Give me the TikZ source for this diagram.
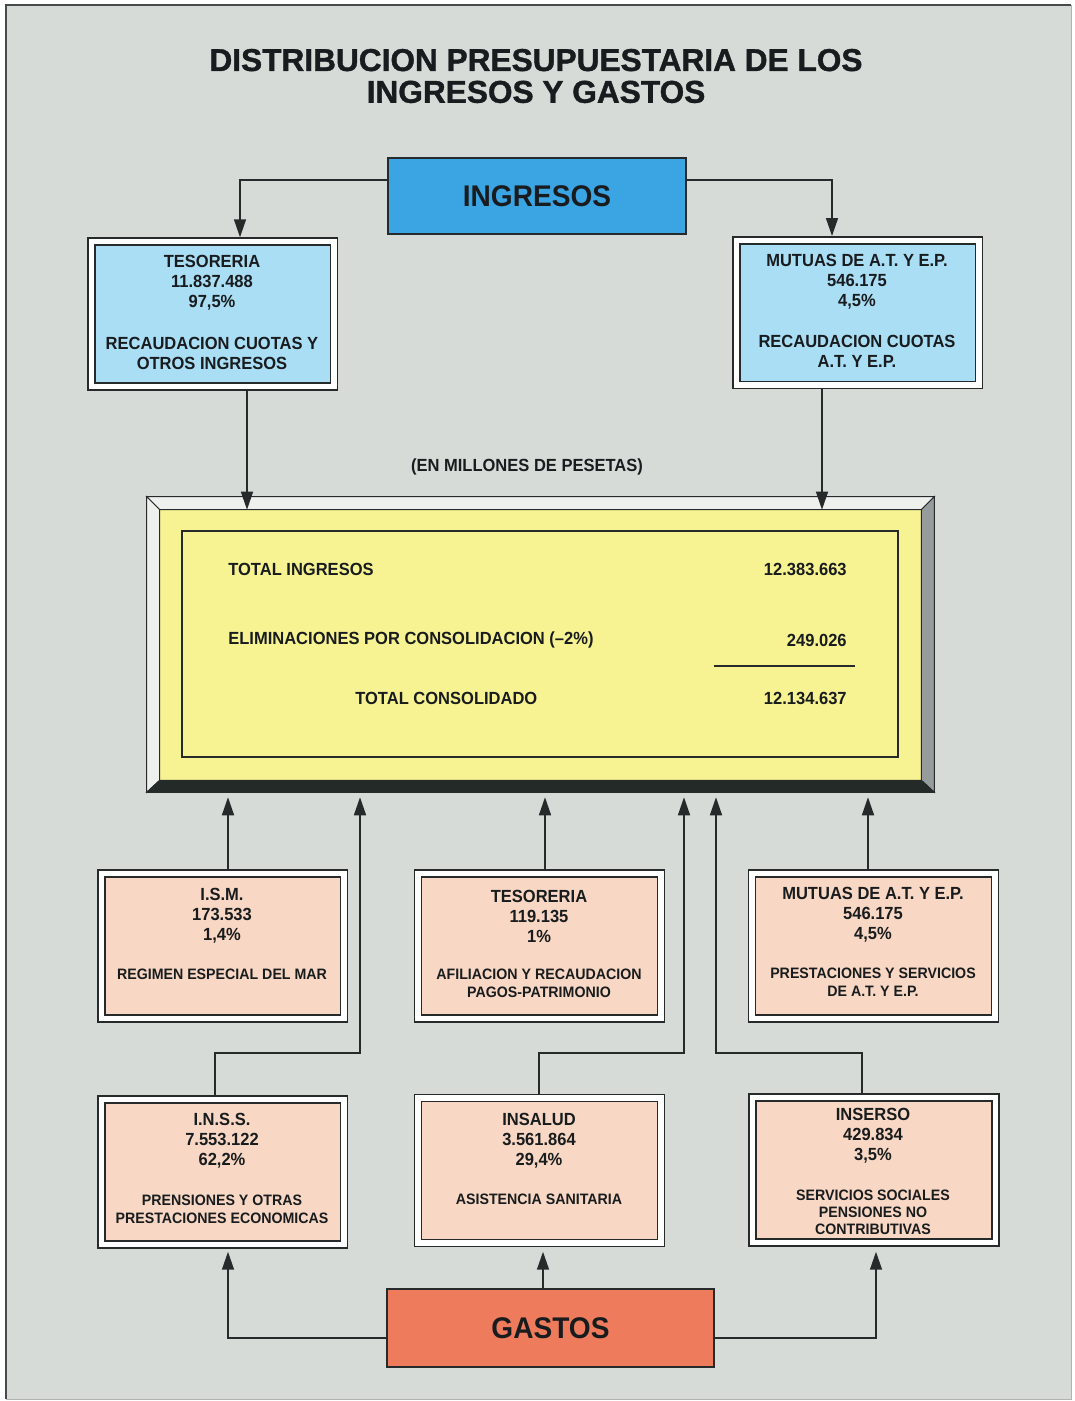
\documentclass[tikz,border=0pt]{standalone}
\usepackage{fontspec}
\setmainfont{Liberation Sans}
\newfontfamily\condfont{Liberation Sans}[FakeStretch=0.94]
\newfontfamily\titlefont{Liberation Sans}[BoldFeatures={FakeBold=1.2}]
\usetikzlibrary{positioning,arrows.meta}

\definecolor{bgC}{RGB}{214,219,216}
\definecolor{lineC}{RGB}{38,42,42}
\definecolor{txtC}{RGB}{25,28,30}
\definecolor{ingC}{RGB}{58,165,226}
\definecolor{cyanL}{RGB}{170,222,245}
\definecolor{peachC}{RGB}{248,216,196}
\definecolor{gastC}{RGB}{238,124,92}
\definecolor{yelC}{RGB}{247,243,146}
\definecolor{bevLight}{RGB}{238,240,238}
\definecolor{bevMid}{RGB}{150,156,155}
\definecolor{bevDark}{RGB}{35,42,40}

\begin{document}
\begin{tikzpicture}[x=0.02cm,y=-0.02cm,
    arr/.style={-{Triangle[length=0.36cm,width=0.24cm]},draw=lineC,line width=0.03cm},
    dbox/.style={draw=lineC,line width=0.03cm,double=white,double distance=0.11cm,
        minimum width=4.86cm,minimum height=2.9cm,inner sep=0pt},
    bigbox/.style={draw=lineC,line width=0.045cm,inner sep=0pt,text=txtC,
        font=\condfont\bfseries\fontsize{17}{20}\selectfont},
    head/.style={align=center,inner sep=0pt,text=txtC,font=\condfont\bfseries\fontsize{10}{11.4}\selectfont},
    desc/.style={align=center,inner sep=0pt,text=txtC,font=\condfont\bfseries\fontsize{8.6}{10.2}\selectfont},
    ytxt/.style={inner sep=0pt,text=txtC,font=\condfont\bfseries\fontsize{10}{11.4}\selectfont}]
    % page
    \useasboundingbox (0,0) rectangle (1075,1401);
    \fill[white] (0,0) rectangle (1075,1401);
    \filldraw[fill=bgC,draw=gray!60] (6,5) rectangle (1071,1399);
    \draw[lineC!85,line width=0.04cm] (6,1399) -- (6,5) -- (1071,5);
    % title
    \node[align=center,text=txtC,inner sep=0pt,font=\titlefont\bfseries\fontsize{18}{18.1}\selectfont]
        (title) at (536,76) {DISTRIBUCION PRESUPUESTARIA DE LOS\\INGRESOS Y GASTOS};
    % ingresos side
    \node[bigbox,fill=ingC,minimum width=5.96cm,minimum height=1.52cm] (ingresos) at (537,196) {INGRESOS};
    \node[dbox,fill=cyanL] (tesoI) at (212.75,314) {};
    \node[head] (tesoIh) at (212,283) {TESORERIA\\11.837.488\\97,5\%};
    \node[head] (tesoId) at (212,353) {RECAUDACION CUOTAS Y\\OTROS INGRESOS};
    \node[dbox,fill=cyanL] (mutI) at (857.75,312.75) {};
    \node[head] (mutIh) at (857,282) {MUTUAS DE A.T. Y E.P.\\546.175\\4,5\%};
    \node[head] (mutId) at (857,351) {RECAUDACION CUOTAS\\A.T. Y E.P.};
    \node[ytxt] (unit) at (527,467) {(EN MILLONES DE PESETAS)};
    % consolidated frame
    \node[minimum width=15.74cm,minimum height=5.9cm,inner sep=0pt] (frame) at (540.5,644.5) {};
    \node[fill=yelC,minimum width=15.22cm,minimum height=5.4cm,inner sep=0pt] (cons) at (540.5,645) {};
    \filldraw[fill=bevLight,draw=lineC,line width=0.02cm] (frame.north west) -- (frame.north east) -- (cons.north east) -- (cons.north west) -- cycle;
    \filldraw[fill=bevLight,draw=lineC,line width=0.02cm] (frame.north west) -- (cons.north west) -- (cons.south west) -- (frame.south west) -- cycle;
    \filldraw[fill=bevMid,draw=lineC,line width=0.02cm] (frame.north east) -- (frame.south east) -- (cons.south east) -- (cons.north east) -- cycle;
    \filldraw[fill=bevDark,draw=lineC,line width=0.02cm] (frame.south west) -- (frame.south east) -- (cons.south east) -- (cons.south west) -- cycle;
    \node[draw=lineC,line width=0.05cm,minimum width=14.32cm,minimum height=4.52cm,inner sep=0pt] (tab) at (540,644) {};
    \node[ytxt,anchor=west] (totI) at (228,569) {TOTAL INGRESOS};
    \node[ytxt,anchor=east] (totIv) at (847,569) {12.383.663};
    \node[ytxt,anchor=west] (elim) at (228,640) {ELIMINACIONES POR CONSOLIDACION (–2\%)};
    \node[ytxt,anchor=east] (elimv) at (847,640) {249.026};
    \draw[lineC,line width=0.04cm] (714,666) -- (855,666);
    \node[ytxt,anchor=west] (totC) at (355,698) {TOTAL CONSOLIDADO};
    \node[ytxt,anchor=east] (totCv) at (847,698) {12.134.637};
    % middle row
    \node[dbox,fill=peachC] (ism) at (222.75,946) {};
    \node[head] (ismh) at (222,916) {I.S.M.\\173.533\\1,4\%};
    \node[desc] (ismd) at (222,974) {REGIMEN ESPECIAL DEL MAR};
    \node[dbox,fill=peachC] (tesoG) at (539.5,946) {};
    \node[head] (tesoGh) at (539,916) {TESORERIA\\119.135\\1\%};
    \node[desc] (tesoGd) at (539,983) {AFILIACION Y RECAUDACION\\PAGOS-PATRIMONIO};
    \node[dbox,fill=peachC] (mutG) at (873.5,946) {};
    \node[head] (mutGh) at (873,915) {MUTUAS DE A.T. Y E.P.\\546.175\\4,5\%};
    \node[desc] (mutGd) at (873,982) {PRESTACIONES Y SERVICIOS\\DE A.T. Y E.P.};
    % bottom row
    \node[dbox,fill=peachC] (inss) at (222.75,1172) {};
    \node[head] (inssh) at (222,1141) {I.N.S.S.\\7.553.122\\62,2\%};
    \node[desc] (inssd) at (222,1209) {PRENSIONES Y OTRAS\\PRESTACIONES ECONOMICAS};
    \node[dbox,fill=peachC] (insalud) at (539.5,1170.5) {};
    \node[head] (insaludh) at (539,1141) {INSALUD\\3.561.864\\29,4\%};
    \node[desc] (insaludd) at (539,1199) {ASISTENCIA SANITARIA};
    \node[dbox,fill=peachC] (inserso) at (874,1170) {};
    \node[head] (insersoh) at (873,1136) {INSERSO\\429.834\\3,5\%};
    \node[desc,font=\condfont\bfseries\fontsize{8.6}{9.7}\selectfont] (insersod) at (873,1212) {SERVICIOS SOCIALES\\PENSIONES NO\\CONTRIBUTIVAS};
    \node[bigbox,fill=gastC,minimum width=6.54cm,minimum height=1.56cm] (gastos) at (550.5,1328) {GASTOS};
    % connectors
    \coordinate (fb) at ([yshift=-2.8pt]frame.south);
    \coordinate (bus) at (540,1053);
    \coordinate (gb) at ([yshift=-0.16cm]insalud.south);
    \draw[arr,shorten >=0.07cm] ([yshift=0.32cm]ingresos.west) -| (240,0 |- tesoI.north);
    \draw[arr,shorten >=0.07cm] ([yshift=0.32cm]ingresos.east) -| (832,0 |- mutI.north);
    \draw[arr,shorten <=0.07cm] (247,0 |- tesoI.south) -- (247,0 |- cons.north);
    \draw[arr,shorten <=0.07cm] (822,0 |- mutI.south) -- (822,0 |- cons.north);
    \draw[arr,shorten <=0.07cm] (228,0 |- ism.north) -- (228,0 |- fb);
    \draw[arr,shorten <=0.07cm] (545,0 |- tesoG.north) -- (545,0 |- fb);
    \draw[arr,shorten <=0.07cm] (868,0 |- mutG.north) -- (868,0 |- fb);
    \draw[arr,shorten <=0.07cm] (215,0 |- inss.north) |- (360,0 |- bus) -- (360,0 |- fb);
    \draw[arr,shorten <=0.07cm] (539,0 |- insalud.north) |- (684,0 |- bus) -- (684,0 |- fb);
    \draw[arr,shorten <=0.07cm] (862,0 |- inserso.north) |- (716,0 |- bus) -- (716,0 |- fb);
    \draw[arr] (543,0 |- gastos.north) -- (543,0 |- gb);
    \draw[arr] ([yshift=-0.2cm]gastos.west) -| (228,0 |- gb);
    \draw[arr] ([yshift=-0.2cm]gastos.east) -| (876,0 |- gb);
\end{tikzpicture}
\end{document}
